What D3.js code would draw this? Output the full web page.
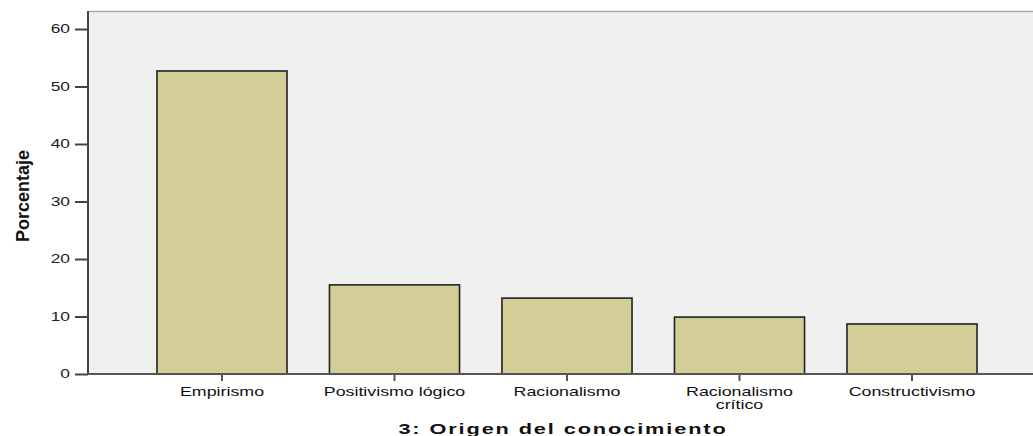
<!DOCTYPE html>
<html>
<head>
<meta charset="utf-8">
<script src="https://cdn.jsdelivr.net/npm/d3@7"></script>
<style>
  body { margin: 0; background: #fff; }
  svg { display: block; }
</style>
</head>
<body>
<svg id="chart" width="1033" height="436"></svg>
<script>

// data
var categories = ['Empirismo', 'Positivismo lógico', 'Racionalismo', 'Racionalismo crítico', 'Constructivismo']
var percentages = [52.7, 15.5, 13.2, 9.9, 8.7]
var yTicks = [0, 10, 20, 30, 40, 50, 60]

var svg = d3.select('#chart')

var plotLeft = 88, plotTop = 11, plotRight = 1033, plotBottom = 374
// the original picture is stretched sideways, so the text is too
var stretch = 1.45

var y = d3.scaleLinear().domain([0, 60]).range([plotBottom, 29])
var x = d3.scaleBand()
    .domain(categories)
    .range([135.75, 998.25])
    .paddingInner(0.246)
    .paddingOuter(0.123)

// plot background
svg.append('rect')
    .attr('x', plotLeft)
    .attr('y', plotTop)
    .attr('width', plotRight - plotLeft)
    .attr('height', plotBottom - plotTop)
    .attr('fill', '#f0f0f0')
svg.append('line')
    .attr('x1', plotLeft).attr('x2', plotRight)
    .attr('y1', plotTop + 0.5).attr('y2', plotTop + 0.5)
    .attr('stroke', '#a8a8a8').attr('stroke-width', 1.5)

// bars
svg.selectAll('.bar')
    .data(categories)
    .enter().append('rect')
    .classed('bar', true)
    .attr('x', function(d){ return x(d) })
    .attr('width', x.bandwidth())
    .attr('y', function(d, i){ return y(percentages[i]) })
    .attr('height', function(d, i){ return y(0) - y(percentages[i]) })
    .attr('fill', '#d3ce97')
    .attr('stroke', '#222')
    .attr('stroke-width', 1.6)

// y axis
var yAxis = svg.append('g')
    .attr('transform', 'translate(' + plotLeft + ',0)')
    .call(d3.axisLeft(y).tickValues(yTicks).tickSize(13).tickPadding(5))
yAxis.select('.domain').attr('d', 'M0,' + plotTop + 'V' + plotBottom)
    .attr('stroke', '#444').attr('stroke-width', 2)
yAxis.selectAll('.tick line').attr('stroke', '#444').attr('stroke-width', 2)
yAxis.selectAll('.tick text')
    .attr('font-family', 'Liberation Sans, Arial, sans-serif')
    .attr('font-size', 12)
    .attr('fill', '#222')
    .attr('x', -18 / stretch)
    .attr('transform', 'scale(' + stretch + ',1)')

// x axis
var xAxis = svg.append('g')
    .attr('transform', 'translate(0,' + plotBottom + ')')
    .call(d3.axisBottom(x).tickSize(7).tickPadding(6))
xAxis.select('.domain').attr('d', 'M' + plotLeft + ',0H' + plotRight)
    .attr('stroke', '#555').attr('stroke-width', 2)
xAxis.selectAll('.tick line').attr('stroke', '#555').attr('stroke-width', 2)
xAxis.selectAll('.tick text')
    .attr('font-family', 'Liberation Sans, Arial, sans-serif')
    .attr('font-size', 13)
    .attr('fill', '#111')
    .attr('transform', 'scale(1.37,1)')
    .text(null)
    .each(function(d){
        var t = d3.select(this)
        var lines = d === 'Racionalismo crítico' ? ['Racionalismo', 'crítico'] : [d]
        lines.forEach(function(line, i){
            t.append('tspan').attr('x', 0).attr('dy', i === 0 ? '0.71em' : '1.0em').text(line)
        })
    })

// axis titles
svg.append('text')
    .attr('transform', 'translate(29,196) rotate(-90)')
    .attr('text-anchor', 'middle')
    .attr('font-family', 'Liberation Sans, Arial, sans-serif')
    .attr('font-weight', 'bold')
    .attr('font-size', 18)
    .attr('fill', '#111')
    .text('Porcentaje')

svg.append('text')
    .attr('transform', 'translate(563,434) scale(' + stretch + ',1)')
    .attr('text-anchor', 'middle')
    .attr('font-family', 'Liberation Sans, Arial, sans-serif')
    .attr('font-weight', 'bold')
    .attr('font-size', 15)
    .attr('letter-spacing', 1.3)
    .attr('fill', '#111')
    .text('3: Origen del conocimiento')

</script>
</body>
</html>
